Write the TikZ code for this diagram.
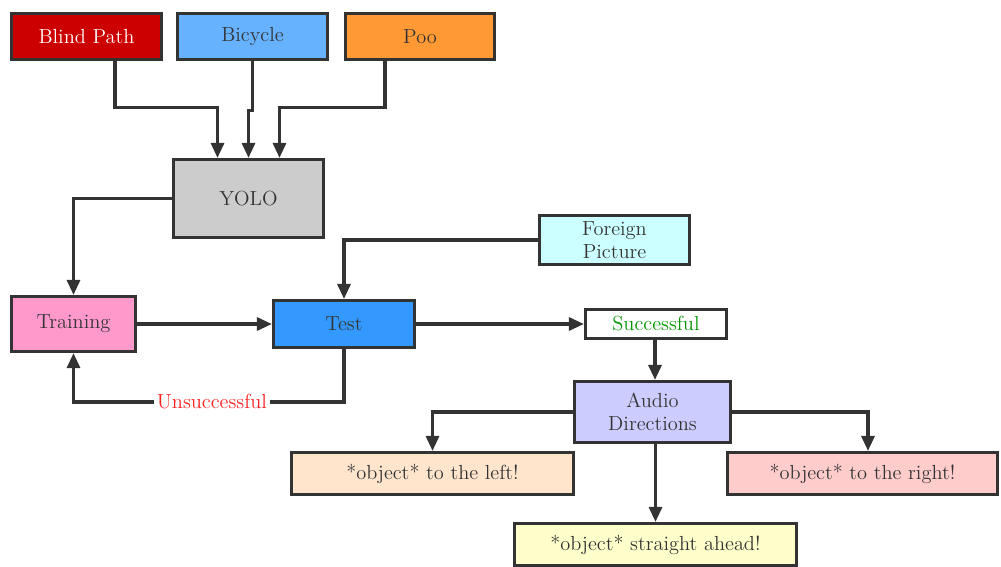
\documentclass[tikz,border=0pt]{standalone}
\usetikzlibrary{arrows.meta,calc}
\definecolor{ln}{HTML}{333333}
\definecolor{cblind}{HTML}{CC0000}
\definecolor{cbike}{HTML}{66B2FF}
\definecolor{cpoo}{HTML}{FF9933}
\definecolor{cyolo}{HTML}{CCCCCC}
\definecolor{ctrain}{HTML}{FF99CC}
\definecolor{ctest}{HTML}{3399FF}
\definecolor{cforeign}{HTML}{CCFFFF}
\definecolor{caudio}{HTML}{CCCCFF}
\definecolor{cleft}{HTML}{FFE5CC}
\definecolor{cright}{HTML}{FFCCCC}
\definecolor{cstraight}{HTML}{FFFFCC}
\definecolor{csucc}{HTML}{009900}
\definecolor{cfail}{HTML}{FF2222}
\begin{document}
\begin{tikzpicture}[x=0.02cm,y=-0.02cm,
  box/.style={draw=ln, line width=1.8pt, inner sep=0pt, text=ln, align=center,
    font=\fontsize{11.6}{14}\selectfont},
  sz/.style 2 args={minimum width=#1*0.02cm, minimum height=#2*0.02cm},
  arr/.style={draw=ln, line width=1.8pt, -{Triangle[length=0.3cm,width=0.26cm]}},
  plain/.style={draw=ln, line width=1.8pt}]
\useasboundingbox (0,0) rectangle (1001,566);
\clip (0,0) rectangle (1001,566);
\node[box, sz={150}{46}, fill=cblind, text=white] (blind) at (86.5,36.5) {Blind Path};
\node[box, sz={150}{46}, fill=cbike] (bike) at (252.5,36.5) {Bicycle};
\node[box, sz={149}{46}, fill=cpoo] (poo) at (420,36.5) {Poo};
\node[box, sz={150}{78}, fill=cyolo] (yolo) at (248.5,198.5) {YOLO};
\node[box, sz={124}{55}, fill=ctrain] (train) at (73.5,324) {Training};
\node[box, sz={141}{47}, fill=ctest] (test) at (344,324) {Test};
\node[box, sz={150}{49}, fill=cforeign] (foreign) at (614.5,240) {Foreign\\[-1pt]Picture};
\node[box, sz={141}{29}, fill=white, text=csucc] (succ) at (656,324) {Successful};
\node[box, sz={156}{61}, fill=caudio] (audio) at (652.5,412) {Audio\\[-1pt]Directions};
\node[box, sz={282}{42}, fill=cleft] (left) at (432.5,473.5) {*object* to the left!};
\node[box, sz={270}{42}, fill=cright] (right) at (862.5,473.5) {*object* to the right!};
\node[box, sz={282}{42}, fill=cstraight] (straight) at (655.5,544.5) {*object* straight ahead!};
\node[fill=white, inner sep=1.5pt, text=cfail, font=\fontsize{11.6}{14}\selectfont] (unsucc) at (212,402) {Unsuccessful};

\draw[arr] ([xshift=0.57cm]blind.south) -- ++(0,46) -| ([xshift=-0.62cm]yolo.north);
\draw[arr] (bike.south) -- ++(0,49) -| (yolo.north);
\draw[arr] ([xshift=-0.7cm]poo.south) -- ++(0,46) -| ([xshift=0.62cm]yolo.north);
\draw[arr] (yolo.west) -| (train.north);
\draw[arr] (foreign.west) -| (test.north);
\draw[arr] (train.east) -- (test.west);
\draw[plain] (test.south) |- (unsucc.east);
\draw[arr] (unsucc.west) -| (train.south);
\draw[arr] (test.east) -- (succ.west);
\draw[arr] ([xshift=-0.02cm]succ.south) -- ([xshift=-0.02cm]succ.south |- audio.north);
\draw[arr] (audio.west) -| (left.north);
\draw[arr] (audio.east) -| ([xshift=0.11cm]right.north);
\draw[arr] (audio.south -| straight.north) -- (straight.north);
\end{tikzpicture}
\end{document}
